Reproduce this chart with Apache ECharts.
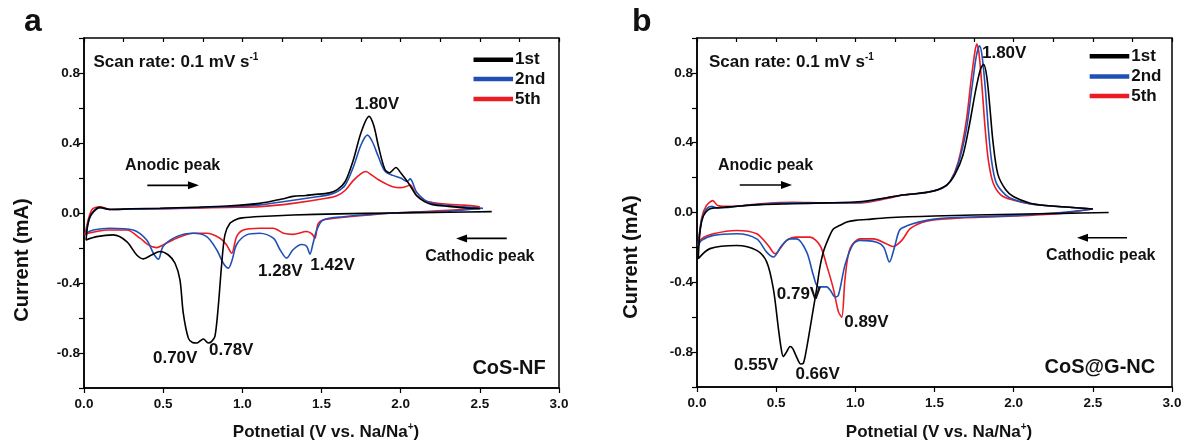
<!DOCTYPE html>
<html><head><meta charset="utf-8">
<script src="https://cdn.jsdelivr.net/npm/echarts@6/dist/echarts.min.js"></script>
<style>html,body{margin:0;padding:0;background:#fff}#c{width:1189px;height:445px}</style>
</head><body><div id="c"></div>
<script>
// ---------- DATA ----------
const cycleNames = ['1st', '2nd', '5th'];
const xRange = [0, 3];
const yRange = [-1, 1];

// Panel a: CoS-NF  (potential V, current mA), cathodic scan then anodic scan
const a1st = [
[2.575,0.008],[2.3,0.004],[1.954,0],[1.6,-0.005],[1.32,-0.011],[1.11,-0.02],[1.0,-0.028],[0.964,-0.036],[0.922,-0.059],[0.89,-0.125],[0.87,-0.287],[0.848,-0.534],[0.827,-0.705],[0.805,-0.735],[0.785,-0.743],[0.754,-0.72],[0.735,-0.73],[0.712,-0.743],[0.685,-0.74],[0.659,-0.715],[0.627,-0.572],[0.606,-0.382],[0.575,-0.287],[0.533,-0.24],[0.48,-0.22],[0.427,-0.24],[0.375,-0.262],[0.333,-0.24],[0.27,-0.163],[0.185,-0.125],[0.08,-0.135],[0.013,-0.154],
[0.038,-0.02],[0.1,0.032],[0.164,0.02],[0.3,0.024],[0.48,0.027],[0.7,0.033],[0.9,0.04],[1.11,0.055],[1.25,0.08],[1.32,0.095],[1.4,0.1],[1.45,0.105],[1.55,0.115],[1.6,0.133],[1.65,0.18],[1.7,0.3],[1.75,0.46],[1.8,0.552],[1.83,0.5],[1.86,0.38],[1.9,0.25],[1.93,0.23],[1.97,0.26],[2.0,0.23],[2.05,0.17],[2.1,0.1],[2.15,0.065],[2.2,0.048],[2.3,0.038],[2.4,0.03],[2.5,0.025]];
const a2nd = [
[2.52,0.027],[2.3,0.01],[1.954,0],[1.638,-0.021],[1.51,-0.04],[1.47,-0.097],[1.445,-0.18],[1.427,-0.235],[1.406,-0.19],[1.375,-0.18],[1.32,-0.21],[1.28,-0.258],[1.238,-0.21],[1.196,-0.144],[1.11,-0.116],[1.027,-0.125],[0.964,-0.18],[0.935,-0.27],[0.912,-0.315],[0.88,-0.287],[0.838,-0.21],[0.775,-0.135],[0.69,-0.116],[0.585,-0.135],[0.5,-0.19],[0.47,-0.264],[0.438,-0.23],[0.396,-0.154],[0.31,-0.097],[0.164,-0.087],[0.059,-0.097],[0.013,-0.116],
[0.04,-0.02],[0.1,0.03],[0.16,0.02],[0.3,0.022],[0.5,0.025],[0.7,0.03],[0.9,0.036],[1.1,0.045],[1.3,0.07],[1.45,0.09],[1.55,0.105],[1.6,0.122],[1.65,0.16],[1.7,0.26],[1.75,0.39],[1.79,0.445],[1.82,0.41],[1.86,0.32],[1.9,0.24],[1.95,0.215],[2.0,0.2],[2.04,0.18],[2.06,0.195],[2.1,0.12],[2.15,0.075],[2.2,0.055],[2.3,0.042],[2.4,0.035],[2.52,0.027]];
const a5th = [
[2.5,0.036],[2.3,0.015],[1.954,0],[1.533,-0.036],[1.48,-0.059],[1.459,-0.144],[1.44,-0.12],[1.406,-0.106],[1.32,-0.122],[1.26,-0.116],[1.196,-0.087],[1.11,-0.087],[1.006,-0.097],[0.964,-0.135],[0.933,-0.23],[0.9,-0.182],[0.859,-0.144],[0.775,-0.116],[0.69,-0.116],[0.585,-0.144],[0.5,-0.182],[0.459,-0.198],[0.406,-0.182],[0.354,-0.144],[0.27,-0.097],[0.143,-0.097],[0.027,-0.116],[0.006,-0.125],
[0.048,0.017],[0.1,0.036],[0.164,0.021],[0.3,0.022],[0.5,0.025],[0.7,0.028],[0.9,0.032],[1.11,0.036],[1.32,0.055],[1.53,0.084],[1.6,0.1],[1.65,0.13],[1.7,0.185],[1.75,0.225],[1.78,0.237],[1.82,0.215],[1.86,0.19],[1.9,0.17],[1.95,0.15],[2.0,0.145],[2.03,0.15],[2.06,0.16],[2.1,0.1],[2.15,0.07],[2.2,0.06],[2.3,0.05],[2.4,0.045],[2.5,0.036]];

// Panel b: CoS@G-NC
const b1st = [
[2.6,0.0],[2.3,-0.005],[2.0,-0.01],[1.5,-0.02],[1.2,-0.03],[1.07,-0.04],[1.0,-0.045],[0.946,-0.055],[0.9,-0.075],[0.861,-0.094],[0.83,-0.15],[0.798,-0.226],[0.775,-0.32],[0.756,-0.436],[0.735,-0.55],[0.714,-0.664],[0.69,-0.79],[0.672,-0.863],[0.655,-0.868],[0.63,-0.83],[0.605,-0.78],[0.588,-0.768],[0.565,-0.8],[0.545,-0.825],[0.53,-0.77],[0.514,-0.664],[0.482,-0.436],[0.44,-0.283],[0.377,-0.217],[0.25,-0.189],[0.082,-0.207],[0.008,-0.265],
[0.02,-0.1],[0.04,-0.02],[0.07,0.015],[0.1,0.025],[0.2,0.032],[0.4,0.045],[0.6,0.05],[0.8,0.055],[1.0,0.06],[1.1,0.07],[1.2,0.085],[1.3,0.1],[1.4,0.11],[1.5,0.125],[1.58,0.16],[1.63,0.22],[1.68,0.33],[1.72,0.5],[1.76,0.7],[1.79,0.82],[1.81,0.85],[1.83,0.78],[1.85,0.6],[1.87,0.4],[1.9,0.22],[1.95,0.13],[2.0,0.09],[2.1,0.055],[2.2,0.04],[2.35,0.03],[2.5,0.02]];
const b2nd = [
[2.5,0.02],[2.3,0.0],[2.0,-0.018],[1.6,-0.03],[1.5,-0.038],[1.4,-0.055],[1.33,-0.075],[1.28,-0.1],[1.25,-0.19],[1.215,-0.284],[1.18,-0.2],[1.135,-0.17],[1.03,-0.16],[0.987,-0.18],[0.935,-0.3],[0.893,-0.474],[0.872,-0.484],[0.845,-0.45],[0.819,-0.426],[0.766,-0.426],[0.735,-0.36],[0.693,-0.227],[0.629,-0.151],[0.587,-0.151],[0.535,-0.189],[0.482,-0.255],[0.44,-0.227],[0.377,-0.151],[0.25,-0.122],[0.103,-0.131],[0.029,-0.16],[0.008,-0.189],
[0.03,-0.04],[0.06,0.02],[0.093,0.035],[0.13,0.025],[0.3,0.04],[0.61,0.055],[0.8,0.055],[1.03,0.058],[1.2,0.085],[1.3,0.1],[1.45,0.115],[1.55,0.14],[1.6,0.18],[1.65,0.28],[1.7,0.47],[1.74,0.74],[1.765,0.9],[1.785,0.955],[1.8,0.9],[1.82,0.72],[1.84,0.48],[1.86,0.3],[1.89,0.17],[1.95,0.1],[2.0,0.075],[2.1,0.05],[2.2,0.04],[2.35,0.03],[2.5,0.02]];
const b5th = [
[2.5,0.02],[2.3,-0.005],[2.0,-0.02],[1.6,-0.035],[1.45,-0.05],[1.35,-0.09],[1.293,-0.16],[1.24,-0.195],[1.198,-0.18],[1.114,-0.151],[1.03,-0.151],[0.966,-0.208],[0.935,-0.379],[0.914,-0.6],[0.893,-0.568],[0.861,-0.436],[0.819,-0.303],[0.777,-0.189],[0.714,-0.141],[0.629,-0.141],[0.566,-0.16],[0.524,-0.208],[0.493,-0.236],[0.45,-0.189],[0.377,-0.122],[0.25,-0.103],[0.103,-0.122],[0.029,-0.151],[0.008,-0.189],
[0.03,-0.03],[0.06,0.04],[0.1,0.068],[0.13,0.04],[0.2,0.035],[0.4,0.05],[0.61,0.058],[0.8,0.055],[1.03,0.055],[1.2,0.08],[1.3,0.1],[1.45,0.115],[1.55,0.14],[1.6,0.18],[1.65,0.29],[1.7,0.52],[1.73,0.75],[1.755,0.92],[1.767,0.965],[1.78,0.92],[1.8,0.72],[1.82,0.48],[1.84,0.3],[1.87,0.17],[1.92,0.1],[2.0,0.07],[2.1,0.05],[2.2,0.04],[2.35,0.03],[2.5,0.02]];

const peakLabelsA = ['1.80V', '1.28V', '1.42V', '0.70V', '0.78V'];
const peakLabelsB = ['1.80V', '0.79V', '0.89V', '0.55V', '0.66V'];
const sampleNames = ['CoS-NF', 'CoS@G-NC'];

// ---------- LAYOUT / STYLE ----------
const FONT = '"Liberation Sans", Arial, sans-serif';
const colors = ['#000000', '#2150b5', '#ec1c24'];
const grids = [
  {left: 84, top: 38, width: 475, height: 350},
  {left: 697, top: 38, width: 475, height: 349}
];
// annotation anchor points in data units [x, y]
const peakPosA = [[1.85,0.62],[1.24,-0.333],[1.57,-0.30],[0.576,-0.832],[0.93,-0.785]];
const peakPosB = [[1.94,0.91],[0.644,-0.467],[1.07,-0.629],[0.374,-0.876],[0.762,-0.928]];
const panelLayout = [
  {scan:[0.06,0.863], anodicText:[0.56,0.27], anodicArrow:[[0.40,0.158],[0.726,0.158]],
   cathText:[2.5,-0.248], cathArrow:[[2.67,-0.145],[2.35,-0.145]], sample:[2.916,-0.891],
   legX:[2.46,2.71], legY:[0.876,0.766,0.651]},
  {scan:[0.076,0.863], anodicText:[0.433,0.27], anodicArrow:[[0.27,0.158],[0.60,0.158]],
   cathText:[2.55,-0.248], cathArrow:[[2.716,-0.145],[2.40,-0.145]], sample:[2.894,-0.891],
   legX:[2.48,2.73], legY:[0.895,0.78,0.667]}
];

const chart = echarts.init(document.getElementById('c'), null, {renderer: 'canvas'});

function yFmt(v) {
  const k = Math.round(v * 10);
  if (Math.abs(k) >= 10 || k % 4 !== 0) return '';
  return (k / 10).toFixed(1);
}
const axisText = {color: '#111', fontFamily: FONT, fontWeight: 'bold', fontSize: 13.5};

const xAxes = [], yAxes = [];
grids.forEach((g, i) => {
  xAxes.push({gridIndex: i, type: 'value', min: xRange[0], max: xRange[1], interval: 0.5,
    axisLine: {show: true, onZero: false, lineStyle: {color: '#000', width: 1.5}},
    axisTick: {show: true, inside: false, length: 5, lineStyle: {color: '#000', width: 1.2}},
    axisLabel: Object.assign({formatter: v => v.toFixed(1), margin: 9}, axisText),
    splitLine: {show: false}});
  xAxes.push({gridIndex: i, type: 'value', min: xRange[0], max: xRange[1], interval: 0.25,
    axisLine: {show: false, onZero: false}, axisLabel: {show: false}, splitLine: {show: false},
    axisTick: {show: true, inside: true, length: 4, lineStyle: {color: '#000', width: 1.2}}});
  yAxes.push({gridIndex: i, type: 'value', min: yRange[0], max: yRange[1], interval: 0.2,
    axisLine: {show: true, onZero: false, lineStyle: {color: '#000', width: 1.5}},
    axisTick: {show: true, inside: false, length: 5, lineStyle: {color: '#000', width: 1.2}},
    axisLabel: Object.assign({formatter: yFmt, margin: 4}, axisText),
    splitLine: {show: false}});
});

const dataSets = [[a1st, a2nd, a5th], [b1st, b2nd, b5th]];
const series = [];
dataSets.forEach((set, gi) => {
  set.forEach((d, si) => {
    series.push({type: 'line', name: cycleNames[si], xAxisIndex: gi * 2, yAxisIndex: gi,
      data: d, showSymbol: false, smooth: 0.3, z: 10 - si,
      lineStyle: {color: colors[si], width: 1.6}, itemStyle: {color: colors[si]}, animation: false});
  });
});

chart.setOption({
  animation: false,
  backgroundColor: '#fff',
  grid: grids.map(g => Object.assign({show: true, borderColor: '#000', borderWidth: 1.5, backgroundColor: 'transparent'}, g)),
  xAxis: xAxes, yAxis: yAxes, series: series
});

// ---------- annotations ----------
const graphics = [];
const bold = (size) => ({fontFamily: FONT, fontWeight: 'bold', fontSize: size, fill: '#111'});
function px(gi, p) { return chart.convertToPixel({gridIndex: gi}, p); }
function addText(gi, p, text, size, align, vAlign) {
  const q = px(gi, p);
  graphics.push({type: 'text', x: q[0], y: q[1], z: 100,
    style: Object.assign({text: text, align: align || 'center', verticalAlign: vAlign || 'middle'}, bold(size))});
}
function addArrow(gi, from, to) {
  const a = px(gi, from), b = px(gi, to);
  const dir = Math.sign(b[0] - a[0]);
  graphics.push({type: 'line', z: 100, shape: {x1: a[0], y1: a[1], x2: b[0] - dir * 8, y2: b[1]},
    style: {stroke: '#000', lineWidth: 1.6}});
  graphics.push({type: 'polygon', z: 100, shape: {points: [[b[0], b[1]], [b[0] - dir * 11, b[1] - 4], [b[0] - dir * 11, b[1] + 4]]},
    style: {fill: '#000'}});
}
[peakLabelsA, peakLabelsB].forEach((labels, gi) => {
  const pos = gi === 0 ? peakPosA : peakPosB;
  labels.forEach((t, i) => addText(gi, pos[i], t, 17));
  const L = panelLayout[gi];
  const s = px(gi, L.scan);
  graphics.push({type: 'text', x: s[0], y: s[1], z: 100, style: {
    text: '{n|Scan rate: 0.1 mV s}{s|-1}', verticalAlign: 'middle', align: 'left',
    rich: {n: bold(17), s: Object.assign(bold(10), {padding: [0, 0, 9, 0]})}}});
  addText(gi, L.anodicText, 'Anodic peak', 16);
  addArrow(gi, L.anodicArrow[0], L.anodicArrow[1]);
  addText(gi, L.cathText, 'Cathodic peak', 16);
  addArrow(gi, L.cathArrow[0], L.cathArrow[1]);
  addText(gi, L.sample, sampleNames[gi], 20, 'right');
  cycleNames.forEach((n, i) => {
    const p1 = px(gi, [L.legX[0], L.legY[i]]), p2 = px(gi, [L.legX[1], L.legY[i]]);
    graphics.push({type: 'line', z: 100, shape: {x1: p1[0], y1: p1[1], x2: p2[0], y2: p2[1]},
      style: {stroke: colors[i], lineWidth: 4.5}});
    graphics.push({type: 'text', x: p2[0] + 2, y: p2[1], z: 100,
      style: Object.assign({text: n, align: 'left', verticalAlign: 'middle'}, bold(17))});
  });
});
graphics.push({type: 'text', x: 24, y: 22, style: Object.assign({text: 'a', verticalAlign: 'middle'}, bold(32))});
graphics.push({type: 'text', x: 632, y: 22, style: Object.assign({text: 'b', verticalAlign: 'middle'}, bold(32))});
[[22, 260, 326], [631, 257, 939]].forEach(([yx, yy, xx]) => {
  graphics.push({type: 'text', x: yx, y: yy, rotation: Math.PI / 2, style: Object.assign(
    {text: 'Current (mA)', align: 'center', verticalAlign: 'middle'}, bold(20))});
  graphics.push({type: 'text', x: xx, y: 432, style: {
    text: '{n|Potnetial (V vs. Na/Na}{s|+}{n|)}', align: 'center', verticalAlign: 'middle',
    rich: {n: bold(17), s: Object.assign(bold(10), {padding: [0, 0, 9, 0]})}}});
});
chart.setOption({graphic: graphics});
</script></body></html>
